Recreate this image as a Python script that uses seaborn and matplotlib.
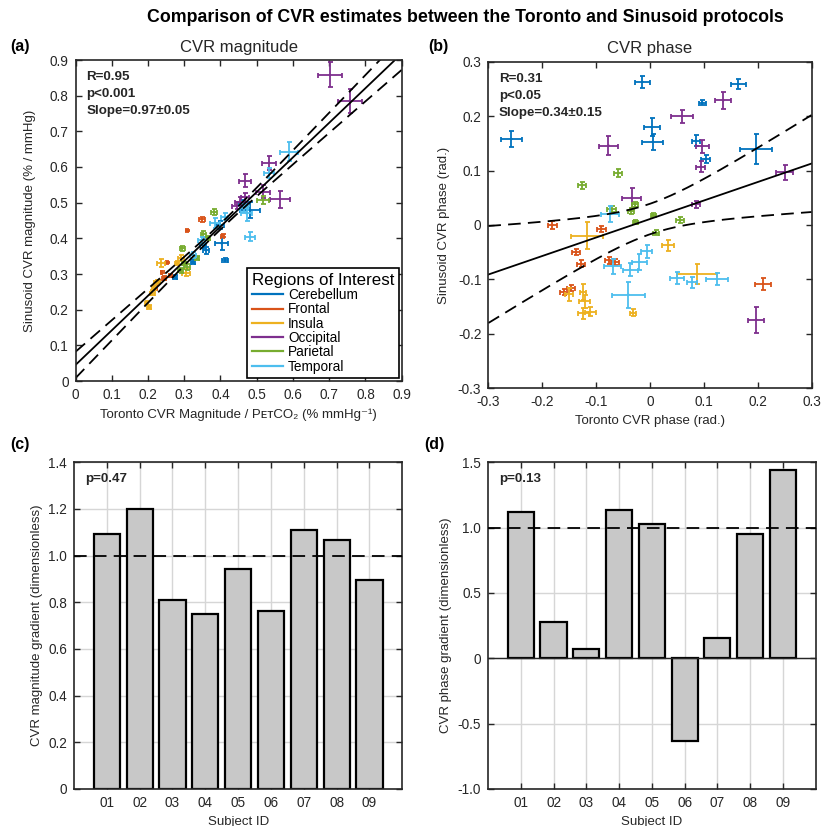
import numpy as np
import pandas as pd
import matplotlib
matplotlib.use("Agg")
import matplotlib.pyplot as plt
from matplotlib.lines import Line2D
import seaborn as sns

# ---------------------------------------------------------------- data
regions = ["Cerebellum", "Frontal", "Insula", "Occipital", "Parietal", "Temporal"]
region_colors = ["#0072BD", "#D95319", "#EDB120", "#7E2F8E", "#77AC30", "#4DBEEE"]
n_subjects = 9

# CVR magnitude: Toronto (x) vs Sinusoid (y), 9 subjects per region
mag_toronto = [
    0.482, 0.403, 0.413, 0.360, 0.275, 0.399, 0.352, 0.462, 0.325,   # Cerebellum
    0.348, 0.308, 0.253, 0.238, 0.406, 0.229, 0.220, 0.244, 0.262,   # Frontal
    0.236, 0.290, 0.305, 0.224, 0.212, 0.196, 0.203, 0.280, 0.216,   # Insula
    0.702, 0.757, 0.534, 0.468, 0.518, 0.564, 0.454, 0.445, 0.468,   # Occipital
    0.518, 0.383, 0.353, 0.295, 0.307, 0.290, 0.335, 0.365, 0.300,   # Parietal
    0.590, 0.534, 0.472, 0.482, 0.385, 0.412, 0.348, 0.325, 0.465,   # Temporal
]
mag_sinusoid = [
    0.479, 0.386, 0.339, 0.367, 0.292, 0.437, 0.380, 0.498, 0.335,
    0.453, 0.422, 0.333, 0.306, 0.407, 0.278, 0.262, 0.288, 0.296,
    0.332, 0.344, 0.304, 0.278, 0.248, 0.218, 0.207, 0.330, 0.262,
    0.858, 0.786, 0.612, 0.561, 0.531, 0.510, 0.503, 0.492, 0.515,
    0.507, 0.473, 0.413, 0.372, 0.320, 0.310, 0.345, 0.400, 0.330,
    0.643, 0.582, 0.470, 0.405, 0.442, 0.461, 0.395, 0.353, 0.485,
]
mag_toronto_err = [
    0.028, 0.018, 0.008, 0.008, 0.006, 0.010, 0.008, 0.010, 0.006,
    0.008, 0.002, 0.002, 0.002, 0.004, 0.004, 0.004, 0.005, 0.004,
    0.011, 0.008, 0.010, 0.008, 0.006, 0.005, 0.005, 0.006, 0.005,
    0.033, 0.034, 0.020, 0.016, 0.020, 0.028, 0.014, 0.012, 0.012,
    0.016, 0.008, 0.008, 0.007, 0.008, 0.006, 0.006, 0.006, 0.005,
    0.025, 0.014, 0.014, 0.014, 0.014, 0.010, 0.010, 0.008, 0.012,
]
mag_sinusoid_err = [
    0.023, 0.018, 0.006, 0.010, 0.006, 0.012, 0.008, 0.010, 0.006,
    0.007, 0.002, 0.002, 0.002, 0.004, 0.004, 0.004, 0.005, 0.004,
    0.011, 0.008, 0.010, 0.006, 0.006, 0.006, 0.006, 0.006, 0.005,
    0.035, 0.034, 0.020, 0.018, 0.018, 0.024, 0.012, 0.010, 0.012,
    0.012, 0.008, 0.008, 0.007, 0.008, 0.006, 0.006, 0.006, 0.005,
    0.026, 0.014, 0.020, 0.012, 0.014, 0.010, 0.010, 0.008, 0.012,
]

# CVR phase: Toronto (x) vs Sinusoid (y), radians
phase_toronto = [
    -0.257, -0.014, 0.003, 0.005, 0.097, 0.085, 0.103, 0.164, 0.197,
    -0.181, -0.090, -0.137, -0.128, -0.076, -0.065, -0.159, -0.147, 0.210,
    -0.117, 0.034, 0.087, -0.150, -0.124, -0.121, -0.111, -0.124, -0.032,
    -0.077, -0.034, 0.059, 0.136, 0.097, 0.094, 0.085, 0.250, 0.197,
    -0.126, -0.059, -0.071, -0.035, -0.028, -0.027, 0.006, 0.011, 0.056,
    -0.074, -0.069, -0.037, -0.006, -0.020, -0.040, 0.050, 0.078, 0.124,
]
phase_sinusoid = [
    0.158, 0.263, 0.180, 0.153, 0.225, 0.155, 0.121, 0.259, 0.140,
    0.000, -0.007, -0.050, -0.071, -0.065, -0.068, -0.123, -0.116, -0.108,
    -0.020, -0.037, -0.090, -0.127, -0.123, -0.140, -0.159, -0.162, -0.161,
    0.146, 0.050, 0.200, 0.229, 0.145, 0.107, 0.038, 0.097, -0.174,
    0.073, 0.095, 0.029, 0.026, 0.038, 0.006, 0.018, -0.014, 0.009,
    0.020, -0.076, -0.082, -0.048, -0.068, -0.128, -0.097, -0.105, -0.099,
]
phase_toronto_err = [
    0.020, 0.014, 0.015, 0.019, 0.006, 0.008, 0.008, 0.014, 0.030,
    0.008, 0.008, 0.008, 0.008, 0.008, 0.008, 0.008, 0.007, 0.015,
    0.030, 0.011, 0.037, 0.008, 0.006, 0.010, 0.010, 0.010, 0.006,
    0.018, 0.018, 0.020, 0.015, 0.012, 0.008, 0.007, 0.016, 0.015,
    0.008, 0.007, 0.008, 0.006, 0.006, 0.005, 0.005, 0.005, 0.007,
    0.016, 0.016, 0.014, 0.010, 0.014, 0.030, 0.013, 0.010, 0.020,
]
phase_sinusoid_err = [
    0.015, 0.011, 0.017, 0.015, 0.005, 0.010, 0.008, 0.010, 0.028,
    0.007, 0.006, 0.005, 0.006, 0.006, 0.005, 0.006, 0.006, 0.011,
    0.025, 0.010, 0.018, 0.012, 0.015, 0.012, 0.008, 0.010, 0.006,
    0.018, 0.018, 0.012, 0.015, 0.012, 0.010, 0.006, 0.014, 0.024,
    0.006, 0.007, 0.006, 0.005, 0.005, 0.004, 0.004, 0.004, 0.005,
    0.015, 0.014, 0.012, 0.012, 0.014, 0.024, 0.011, 0.010, 0.011,
]

# Linear fits and 95% confidence band parameters
mag_fit = dict(slope=0.97, intercept=0.045, band_min=0.008, band_growth=0.09, band_center=0.40)
phase_fit = dict(slope=0.34, intercept=0.011, band_min=0.028, band_growth=0.282, band_center=0.0)
mag_stats = ["R=0.95", "p<0.001", "Slope=0.97\u00b10.05"]
phase_stats = ["R=0.31", "p<0.05", "Slope=0.34\u00b10.15"]

# Per-subject gradients
subject_ids = ["01", "02", "03", "04", "05", "06", "07", "08", "09"]
mag_gradient = [1.092, 1.201, 0.809, 0.751, 0.942, 0.763, 1.111, 1.066, 0.896]
phase_gradient = [1.12, 0.28, 0.074, 1.135, 1.03, -0.633, 0.153, 0.953, 1.438]
mag_p_label = "p=0.47"
phase_p_label = "p=0.13"

# ---------------------------------------------------------------- style
plt.rcParams["font.family"] = ["Liberation Sans", "DejaVu Sans"]
plt.rcParams["axes.unicode_minus"] = False
INK = "#262626"
GRID = "#D6D6D6"

region_col = np.repeat(regions, n_subjects)
df_mag = pd.DataFrame({"region": region_col, "toronto": mag_toronto, "sinusoid": mag_sinusoid,
                       "xerr": mag_toronto_err, "yerr": mag_sinusoid_err})
df_phase = pd.DataFrame({"region": region_col, "toronto": phase_toronto, "sinusoid": phase_sinusoid,
                         "xerr": phase_toronto_err, "yerr": phase_sinusoid_err})
subject_pos = np.arange(1, len(subject_ids) + 1)
df_magbar = pd.DataFrame({"pos": subject_pos, "gradient": mag_gradient})
df_phasebar = pd.DataFrame({"pos": subject_pos, "gradient": phase_gradient})

W, H = 824, 826
fig = plt.figure(figsize=(W / 100, H / 100), dpi=100)
fig.patch.set_facecolor("white")


def box(l, t, r, b):
    return [l / W, 1 - b / H, (r - l) / W, (b - t) / H]


ax_a = fig.add_axes(box(75.5, 60, 401.7, 381))
ax_b = fig.add_axes(box(488.3, 61.7, 811.7, 388.3))
ax_c = fig.add_axes(box(74, 462.3, 402.3, 789))
ax_d = fig.add_axes(box(488, 462.3, 815.7, 789))


def style_axes(ax):
    for s in ax.spines.values():
        s.set_color(INK)
        s.set_linewidth(1.2)
    ax.tick_params(direction="in", top=True, right=True, length=4, width=1,
                   colors=INK, labelsize=9.8, pad=5)


def scatter_panel(ax, df, fit, lim, stats):
    sns.scatterplot(data=df, x="toronto", y="sinusoid", hue="region", hue_order=regions,
                    palette=region_colors, s=3, linewidth=0, legend=False, ax=ax)
    for reg, col in zip(regions, region_colors):
        sub = df[df["region"] == reg]
        ax.errorbar(sub["toronto"], sub["sinusoid"], xerr=sub["xerr"], yerr=sub["yerr"],
                    fmt="none", ecolor=col, elinewidth=1.3, capsize=1.8, capthick=1.3)
    xs = np.linspace(lim[0], lim[1], 300)
    ys = fit["slope"] * xs + fit["intercept"]
    hw = np.sqrt(fit["band_min"] ** 2 + (fit["band_growth"] * (xs - fit["band_center"])) ** 2)
    ax.plot(xs, ys, color="black", lw=1.3)
    ax.plot(xs, ys + hw, color="black", lw=1.3, dashes=(7, 4))
    ax.plot(xs, ys - hw, color="black", lw=1.3, dashes=(7, 4))
    ax.set_xlim(lim)
    ax.set_ylim(lim)
    for i, line in enumerate(stats):
        ax.text(0.033, 0.948 - i * 0.053, line, transform=ax.transAxes, fontsize=9.6,
                fontweight="bold", va="center", ha="left", color=INK)
    style_axes(ax)


# (a) magnitude
scatter_panel(ax_a, df_mag, mag_fit, (0, 0.9), mag_stats)
ax_a.set_xticks(np.arange(0, 0.91, 0.1))
ax_a.set_yticks(np.arange(0, 0.91, 0.1))
ax_a.set_xticklabels(["0"] + [f"{v:.1f}" for v in np.arange(0.1, 0.91, 0.1)])
ax_a.set_yticklabels(["0"] + [f"{v:.1f}" for v in np.arange(0.1, 0.91, 0.1)])
ax_a.set_xlabel("Toronto CVR Magnitude / P\u1d07\u1d1bCO\u2082 (% mmHg\u207b\u00b9)",
                fontsize=9.5, color=INK, labelpad=5)
ax_a.set_ylabel("Sinusoid CVR magnitude (% / mmHg)", fontsize=9.5, color=INK, labelpad=10)
handles = [Line2D([0], [0], color=c, lw=1.6) for c in region_colors]
leg = ax_a.legend(handles, regions, title="Regions of Interest", loc="lower right",
                  fontsize=9.8, title_fontsize=12.2, frameon=True, fancybox=False,
                  edgecolor="black", framealpha=1, borderaxespad=0.2, handlelength=2.3,
                  labelspacing=0.02, borderpad=0.35, handletextpad=0.35)
leg.get_frame().set_linewidth(1.2)
leg._legend_box.align = "left"

# (b) phase
scatter_panel(ax_b, df_phase, phase_fit, (-0.3, 0.3), phase_stats)
pticks = np.round(np.arange(-0.3, 0.31, 0.1), 1)
plabels = ["0" if v == 0 else f"{v:.1f}" for v in pticks]
ax_b.set_xticks(pticks)
ax_b.set_yticks(pticks)
ax_b.set_xticklabels(plabels)
ax_b.set_yticklabels(plabels)
ax_b.set_xlabel("Toronto CVR phase (rad.)", fontsize=9.5, color=INK)
ax_b.set_ylabel("Sinusoid CVR phase (rad.)", fontsize=9.5, color=INK, labelpad=6)


def bar_panel(ax, df, ylim, yticks, ylabels, ylabel, plabel):
    sns.barplot(data=df, x="pos", y="gradient", native_scale=True, color="#C8C8C8",
                saturation=1, edgecolor="black", linewidth=1.6, width=0.8, ax=ax, zorder=2)
    ax.set_xlim(0, len(subject_ids) + 1)
    ax.set_xticks(subject_pos)
    ax.set_xticklabels(subject_ids)
    ax.set_ylim(ylim)
    ax.set_yticks(yticks)
    ax.set_yticklabels(ylabels)
    # light grid behind the bars
    ax.vlines(subject_pos, ylim[0], ylim[1], colors=GRID, linewidth=1.0, zorder=1)
    ax.hlines(yticks, 0, len(subject_ids) + 1, colors=GRID, linewidth=1.0, zorder=1)
    ax.axhline(1.0, color="black", lw=1.3, dashes=(7, 4), zorder=3)
    ax.set_xlabel("Subject ID", fontsize=9.5, color=INK)
    ax.set_ylabel(ylabel, fontsize=9.5, color=INK)
    ax.text(0.035, 0.948, plabel, transform=ax.transAxes, fontsize=9.6,
            fontweight="bold", va="center", ha="left", color=INK)
    style_axes(ax)


bar_panel(ax_c, df_magbar, (0, 1.4), np.arange(0, 1.41, 0.2),
          ["0", "0.2", "0.4", "0.6", "0.8", "1.0", "1.2", "1.4"],
          "CVR magnitude gradient (dimensionless)", mag_p_label)
bar_panel(ax_d, df_phasebar, (-1.0, 1.5), np.arange(-1.0, 1.51, 0.5),
          ["-1.0", "-0.5", "0", "0.5", "1.0", "1.5"],
          "CVR phase gradient (dimensionless)", phase_p_label)
ax_d.axhline(0, color=INK, lw=1.0, zorder=3)

# titles and panel letters
fig.text(465 / W, 1 - 18 / H, "Comparison of CVR estimates between the Toronto and Sinusoid protocols",
         ha="center", va="center", fontsize=12.8, fontweight="bold", color="black")
ax_a.set_title("CVR magnitude", fontsize=12, color=INK, pad=6)
ax_b.set_title("CVR phase", fontsize=12, color=INK, pad=6)
for txt, x, y in [("(a)", 10, 46), ("(b)", 428, 46), ("(c)", 10, 445), ("(d)", 424, 445)]:
    fig.text(x / W, 1 - y / H, txt, ha="left", va="center", fontsize=11.5,
             fontweight="bold", color="black")

fig.savefig("out.png", dpi=100, facecolor="white")
